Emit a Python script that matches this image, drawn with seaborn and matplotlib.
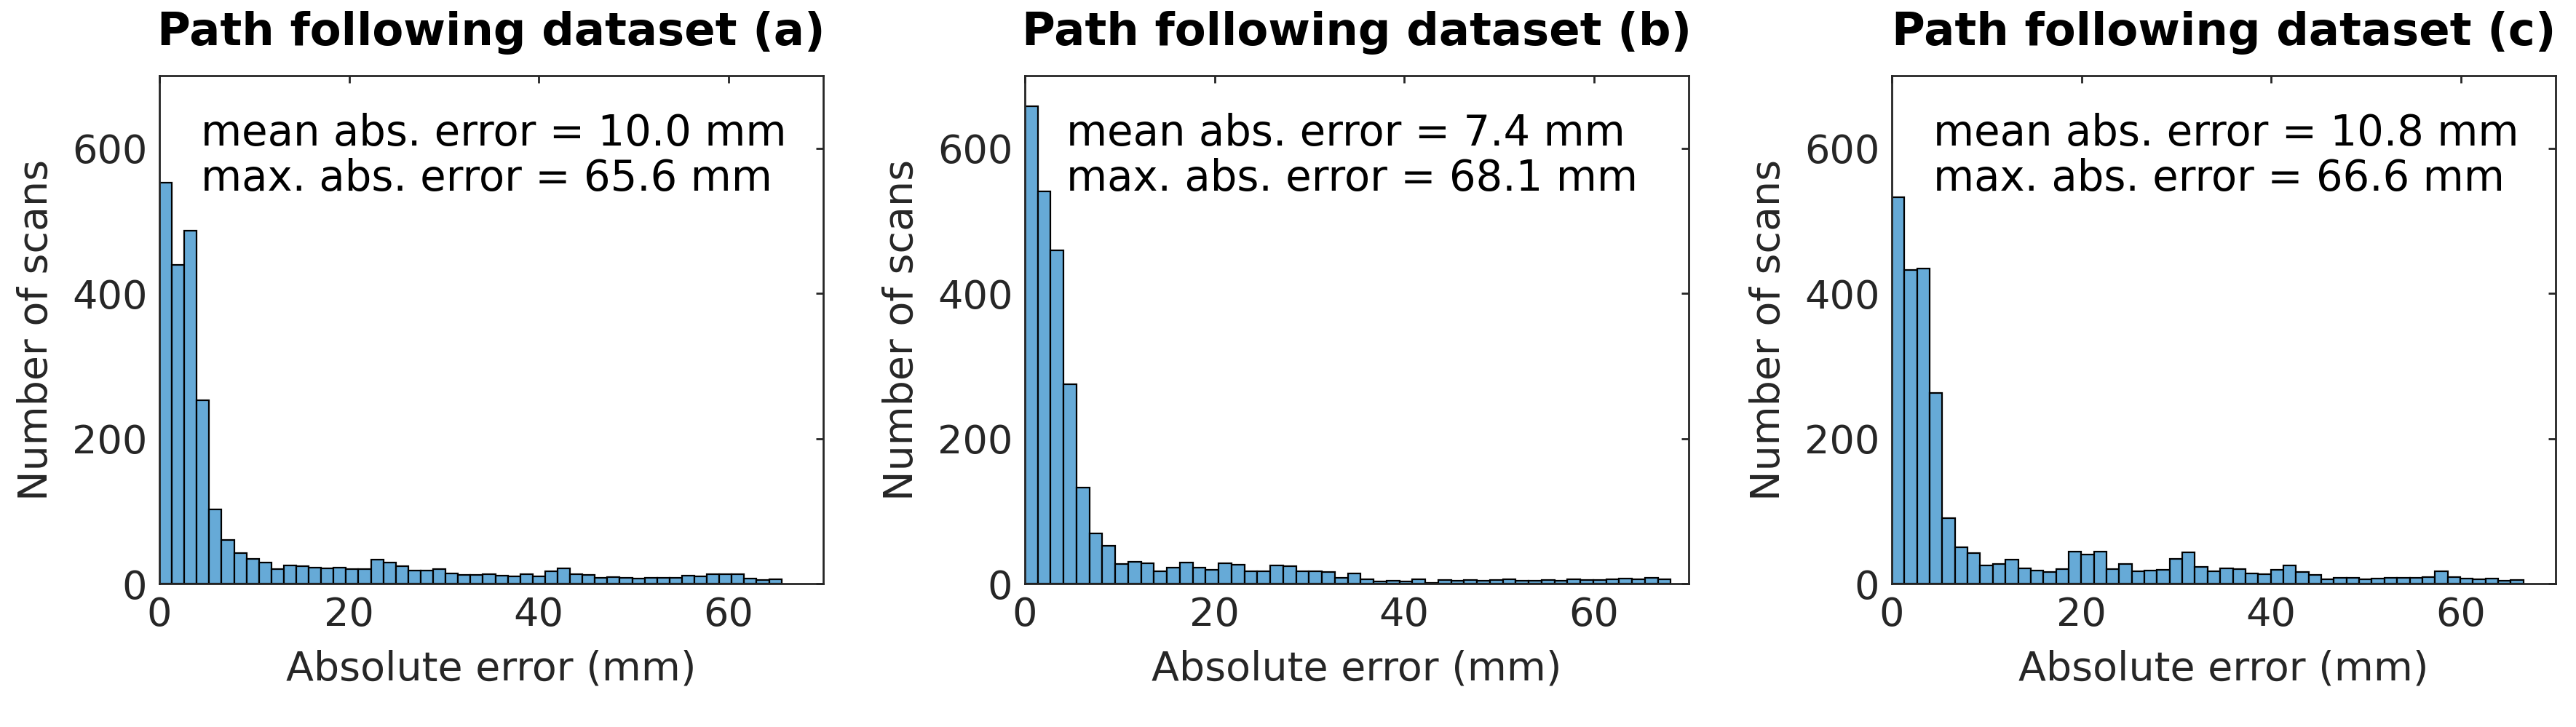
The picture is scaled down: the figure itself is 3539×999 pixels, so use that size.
"""
Absolute error histograms for the three path following datasets.
"""

import numpy as np
import pandas as pd
import matplotlib
matplotlib.use('Agg')
import matplotlib.pyplot as plt
import seaborn as sns

# ── Data (bin counts, 50 bins from 0 to max error) ────────────────────────────
DATASETS = ['a', 'b', 'c']
MEAN_ERR = [10.0, 7.4, 10.8]
MAX_ERR = [65.6, 68.1, 66.6]

counts_a = [553, 439, 486, 253, 102, 60, 42, 34, 29, 20,
            25, 24, 22, 21, 22, 20, 20, 33, 29, 24,
            18, 18, 20, 14, 12, 12, 13, 11, 10, 13,
            10, 17, 21, 13, 12, 8, 9, 8, 7, 8,
            8, 8, 11, 10, 13, 13, 13, 7, 5, 6]
counts_b = [658, 541, 459, 275, 132, 69, 52, 27, 30, 28,
            17, 22, 29, 22, 19, 28, 26, 17, 17, 25,
            24, 17, 17, 16, 8, 14, 6, 3, 4, 3,
            6, 1, 5, 4, 5, 4, 5, 6, 4, 4,
            5, 4, 6, 5, 5, 6, 7, 6, 8, 6]
counts_c = [533, 432, 434, 263, 90, 50, 42, 25, 27, 33,
            21, 18, 16, 20, 44, 40, 44, 20, 27, 17,
            18, 19, 34, 43, 23, 17, 21, 20, 14, 13,
            19, 25, 16, 12, 6, 8, 8, 6, 7, 8,
            8, 8, 9, 17, 9, 7, 6, 7, 4, 5]
COUNTS = [counts_a, counts_b, counts_c]

N_BINS = 50
X_TICKS = [0, 20, 40, 60]
Y_TICKS = [0, 200, 400, 600]

# ── Styling ───────────────────────────────────────────────────────────────────
BAR_COLOR = '#66AAD7'
AX_COLOR = '#262626'
sns.set_theme(style='white')
plt.rcParams.update({'font.family': ['DejaVu Sans'],
                     'axes.edgecolor': AX_COLOR, 'axes.linewidth': 2.0,
                     'xtick.color': AX_COLOR, 'ytick.color': AX_COLOR,
                     'xtick.direction': 'in', 'ytick.direction': 'in',
                     'xtick.major.size': 7, 'ytick.major.size': 7,
                     'xtick.major.width': 2.0, 'ytick.major.width': 2.0,
                     'axes.labelcolor': AX_COLOR})

fig = plt.figure(figsize=(35.39, 9.99), dpi=100)
W, H = 3539, 999
lefts = [219, 1408, 2599]
ax_w, ax_top, ax_bot = 912, 104, 802

for i, (name, mean_e, max_e, cnt) in enumerate(zip(DATASETS, MEAN_ERR, MAX_ERR, COUNTS)):
    ax = fig.add_axes([lefts[i] / W, (H - ax_bot) / H, ax_w / W, (ax_bot - ax_top) / H])
    edges = np.linspace(0, max_e, N_BINS + 1)
    df = pd.DataFrame({'err': (edges[:-1] + edges[1:]) / 2, 'n': cnt})
    sns.histplot(data=df, x='err', weights='n', bins=edges.tolist(), ax=ax,
                 color=BAR_COLOR, alpha=1, edgecolor='black', linewidth=1.6)

    ax.set_xlim(0, 70)
    ax.set_ylim(0, 700)
    ax.set_xticks(X_TICKS)
    ax.set_yticks(Y_TICKS)
    ax.tick_params(labelsize=39, top=True, right=True, pad=12)
    ax.set_xlabel('Absolute error (mm)', fontsize=40, labelpad=16)
    ax.set_ylabel('Number of scans', fontsize=40, labelpad=16)
    ax.set_title(f'Path following dataset ({name})', fontsize=45,
                 fontweight='bold', color='black', pad=30)

    ax.text(0.062, 0.863, f'mean abs. error = {mean_e:.1f} mm', transform=ax.transAxes,
            fontsize=41.5, va='baseline', ha='left', color='black')
    ax.text(0.062, 0.774, f'max. abs. error = {max_e:.1f} mm', transform=ax.transAxes,
            fontsize=41.5, va='baseline', ha='left', color='black')
    for sp in ax.spines.values():
        sp.set_visible(True)

fig.savefig('out.png', dpi=100, facecolor='white')
